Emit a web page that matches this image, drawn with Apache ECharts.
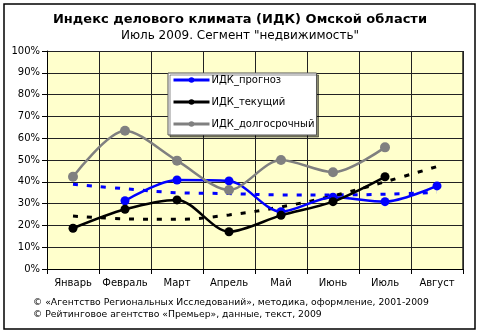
<!DOCTYPE html>
<html><head><meta charset="utf-8">
<script src="https://cdn.jsdelivr.net/npm/echarts@6/dist/echarts.min.js"></script>
<style>html,body{margin:0;padding:0;background:#fff}#c{width:480px;height:333px}</style>
</head><body><div id="c"></div>
<script>
var categories = ['Январь','Февраль','Март','Апрель','Май','Июнь','Июль','Август'];
var forecast = [null, 31.3, 40.8, 40.4, 26.3, 32.9, 30.9, 38.1];
var current = [18.7, 27.4, 31.7, 17.1, 24.6, 30.9, 42.3, null];
var longTerm = [42.3, 63.4, 49.7, 36.2, 50.0, 44.4, 55.8, null];
var forecastTrend = [38.9, 36.8, 35.0, 34.6, 34.0, 34.0, 34.3, 35.2];
var currentTrend = [24.3, 23.0, 22.8, 24.8, 28.5, 33.5, 40.0, 47.0];
var yTicks = [0,10,20,30,40,50,60,70,80,90,100];
var seriesNames = ['ИДК_прогноз','ИДК_текущий','ИДК_долгосрочный'];
var titleText = 'Индекс делового климата (ИДК) Омской области';
var subtitleText = 'Июль 2009. Сегмент "недвижимость"';
var footer1 = '© «Агентство Региональных Исследований», методика, оформление, 2001-2009';
var footer2 = '© Рейтинговое агентство «Премьер», данные, текст, 2009';

var FONT = 'DejaVu Sans';
var chart = echarts.init(document.getElementById('c'), null, {renderer:'canvas'});
function mainSeries(name, data, color, size){
  return {name:name, type:'line', data:data, smooth:0.3, connectNulls:false,
    symbol:'circle', symbolSize:size, showSymbol:true,
    lineStyle:{color:color, width:2.5}, itemStyle:{color:color},
    z:5, animation:false};
}
function trend(data, color){
  return {name:'trend', type:'line', data:data, smooth:0.4, symbol:'none',
    lineStyle:{color:color, width:3, type:[5,9]}, z:3, animation:false, silent:true};
}
chart.setOption({
  animation:false,
  backgroundColor:'#fff',
  title:[
    {text:titleText, left:'center', top:8, textStyle:{fontFamily:FONT, fontSize:13, fontWeight:'bold', color:'#000'}},
    {text:subtitleText, left:'center', top:25, textStyle:{fontFamily:FONT, fontSize:12, fontWeight:'normal', color:'#000'}}
  ],
  grid:{left:47, right:17, top:51, bottom:64, show:true, backgroundColor:'#FFFFCC', borderWidth:0},
  legend:{
    data:seriesNames, orient:'vertical', left:168, top:73,
    backgroundColor:'#fff', borderColor:'#555', borderWidth:1,
    shadowColor:'rgba(0,0,0,0.45)', shadowOffsetX:2, shadowOffsetY:2, shadowBlur:0,
    padding:[1,2,5,4], itemGap:10, itemWidth:36, itemHeight:7,
    lineStyle:{width:3},
    textStyle:{fontFamily:FONT, fontSize:10, color:'#000', padding:[0,0,0,-3], lineHeight:12},
    selectedMode:false
  },
  xAxis:{
    type:'category', data:categories, boundaryGap:true,
    axisLine:{lineStyle:{color:'#000', width:1}},
    axisTick:{show:true, length:5, lineStyle:{color:'#000'}},
    axisLabel:{fontFamily:FONT, fontSize:10, color:'#000', margin:9, interval:0},
    splitLine:{show:true, lineStyle:{color:'#222', width:1}}
  },
  yAxis:{
    type:'value', min:yTicks[0], max:yTicks[yTicks.length-1], interval:10,
    axisLine:{show:true, lineStyle:{color:'#000', width:1}},
    axisTick:{show:true, length:5, lineStyle:{color:'#000'}},
    axisLabel:{fontFamily:FONT, fontSize:10, color:'#000', margin:7, formatter:'{value}%'},
    splitLine:{show:true, lineStyle:{color:'#222', width:1}}
  },
  series:[
    trend(forecastTrend, '#0000FF'),
    trend(currentTrend, '#000000'),
    mainSeries(seriesNames[0], forecast, '#0000FF', 9),
    mainSeries(seriesNames[1], current, '#000000', 9),
    mainSeries(seriesNames[2], longTerm, '#808080', 10)
  ],
  graphic:[
    {type:'rect', shape:{x:4, y:4, width:471, height:325}, style:{fill:'none', stroke:'#000', lineWidth:1.5}, z:100},
    {type:'rect', shape:{x:463, y:51, width:0, height:218}, style:{fill:'none', stroke:'#222', lineWidth:1}, z:1},
    {type:'text', left:33, top:298, style:{text:footer1, fontFamily:FONT, fontSize:9.25, fill:'#000'}},
    {type:'text', left:33, top:310, style:{text:footer2, fontFamily:FONT, fontSize:9.25, fill:'#000'}}
  ]
});
</script></body></html>
